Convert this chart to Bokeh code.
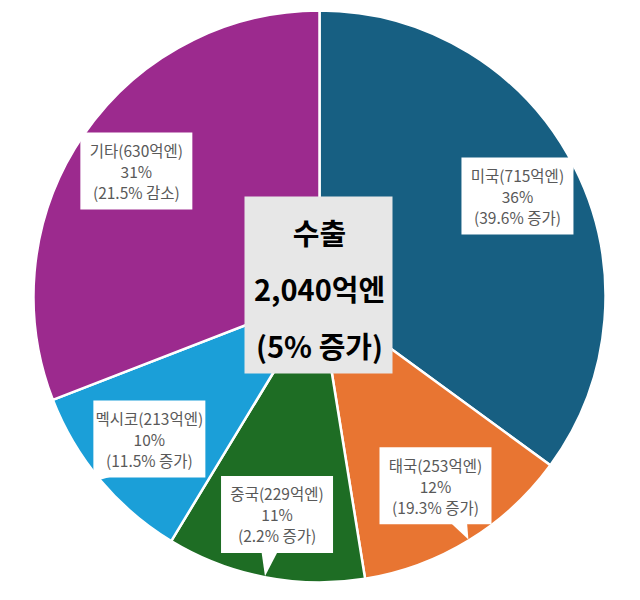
import math
from bokeh.plotting import figure
from bokeh.models import Range1d, ColumnDataSource
from bokeh.embed import file_html
from bokeh.resources import INLINE
from bokeh.core.properties import value

# ---- data ----
countries = ["미국", "태국", "중국", "멕시코", "기타"]
amounts = [715, 253, 229, 213, 630]          # 억엔
shares = ["36%", "12%", "11%", "10%", "31%"]
changes = ["39.6% 증가", "19.3% 증가", "2.2% 증가", "11.5% 증가", "21.5% 감소"]
colors = ["#175f82", "#e87532", "#1e6d24", "#1b9fd8", "#9c2a8e"]
center_lines = ["수출", "2,040억엔", "(5% 증가)"]

# ---- layout constants ----
R = 286
LABEL_R = 222
BOX_W, BOX_H = 112, 77
FONT = value("Noto Sans CJK KR")

total = sum(amounts)
starts, ends, mids = [], [], []
cum = 0
for a in amounts:
    s = math.pi / 2 - 2 * math.pi * cum / total
    cum += a
    e = math.pi / 2 - 2 * math.pi * cum / total
    starts.append(s)
    ends.append(e)
    mids.append((s + e) / 2)

p = figure(width=624, height=584, output_backend="svg", toolbar_location=None,
           x_range=Range1d(-319, 305), y_range=Range1d(-288, 296), min_border=0)
p.axis.visible = False
p.grid.visible = False
p.outline_line_color = None
p.background_fill_color = "white"
p.border_fill_color = "white"

src = ColumnDataSource(dict(start=starts, end=ends, color=colors))
p.wedge(x=0, y=0, radius=R, start_angle="start", end_angle="end", direction="clock",
        fill_color="color", line_color="white", line_width=2.5, source=src)

# callouts
bx, by, tri_x, tri_y = [], [], [], []
tx, ty, texts = [], [], []
for i, m in enumerate(mids):
    cx = LABEL_R * math.cos(m)
    cy = LABEL_R * math.sin(m)
    tipx = (R - 1) * math.cos(m)
    tipy = (R - 1) * math.sin(m)
    bx.append(cx)
    by.append(cy)
    hw, hh = BOX_W / 2, BOX_H / 2
    dx, dy = tipx - cx, tipy - cy
    half = 8
    if abs(dx) / hw > abs(dy) / hh:
        ex = cx + math.copysign(hw - 1, dx)
        ey = cy + dy * (hw / abs(dx))
        ey = max(cy - hh + 10, min(cy + hh - 10, ey))
        tri_x.append([ex, ex, tipx])
        tri_y.append([ey - half, ey + half, tipy])
    else:
        ey = cy + math.copysign(hh - 1, dy)
        ex = cx + dx * (hh / abs(dy))
        ex = max(cx - hw + 10, min(cx + hw - 10, ex))
        tri_x.append([ex - half, ex + half, tipx])
        tri_y.append([ey, ey, tipy])
    lines = [f"{countries[i]}({amounts[i]}억엔)", shares[i], f"({changes[i]})"]
    for k, t in enumerate(lines):
        tx.append(cx)
        ty.append(cy + 21 - 21 * k)
        texts.append(t)

p.rect(x=bx, y=by, width=BOX_W, height=BOX_H, fill_color="white", line_color=None)
p.patches(xs=tri_x, ys=tri_y, fill_color="white", line_color=None)
p.text(x=tx, y=ty, text=texts, text_align="center", text_baseline="middle",
       text_font=FONT, text_font_size="15.5px", text_color="#595959")

# center label
p.rect(x=[-1], y=[11.5], width=148, height=177, fill_color="#e7e7e7", line_color=None)
p.text(x=[0, 0, 0], y=[65, 9, -48], text=center_lines, text_align="center",
       text_baseline="middle", text_font=FONT, text_font_size="29px",
       text_font_style="bold", text_color="#000000")

open("out.html", "w").write(file_html(p, INLINE))
